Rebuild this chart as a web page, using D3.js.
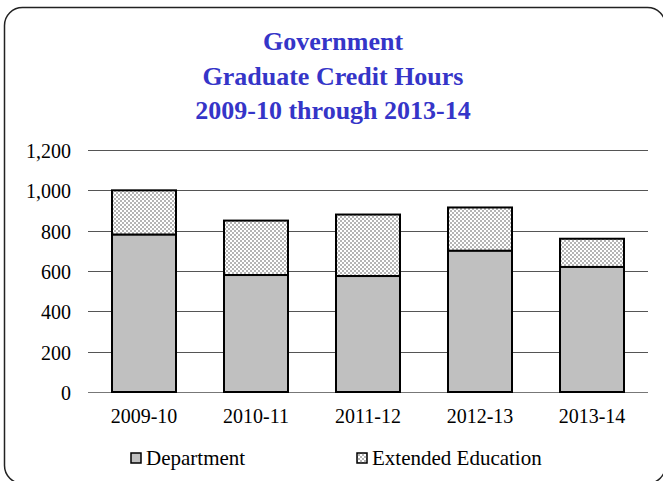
<!DOCTYPE html>
<html><head><meta charset="utf-8">
<script src="https://cdn.jsdelivr.net/npm/d3@7"></script>
<style>body{margin:0;background:#fff}svg{display:block}
text{font-family:"Liberation Serif","Times New Roman",Times,serif;}</style>
</head><body>
<script>
const categories = ["2009-10","2010-11","2011-12","2012-13","2013-14"];
const department = [780, 580, 575, 700, 620];
const extended = [220, 270, 305, 215, 140];
const seriesNames = ["Department","Extended Education"];
const yTicks = [0,200,400,600,800,1000,1200];
const titleLines = ["Government","Graduate Credit Hours","2009-10 through 2013-14"];

const W=663,H=481;
const svg=d3.select("body").append("svg").attr("width",W).attr("height",H);
const defs=svg.append("defs");
const pat=defs.append("pattern").attr("id","chk").attr("width",4).attr("height",4).attr("patternUnits","userSpaceOnUse");
pat.append("rect").attr("width",4).attr("height",4).attr("fill","#fff");
pat.append("rect").attr("width",2).attr("height",2).attr("fill","#b4b4b4");
pat.append("rect").attr("x",2).attr("y",2).attr("width",2).attr("height",2).attr("fill","#b4b4b4");

svg.append("rect").attr("x",4.5).attr("y",7.5).attr("width",661).attr("height",476).attr("rx",18)
  .attr("fill","none").attr("stroke","#222").attr("stroke-width",1.5);

const tg=svg.append("g").attr("font-weight","bold").attr("font-size",26).attr("fill","#3535c8").attr("text-anchor","middle");
const titleY=[50,85,119];
titleLines.forEach((t,i)=>tg.append("text").attr("x",333).attr("y",titleY[i]).style("font-weight","bold").text(t));

const x=d3.scaleBand().domain(categories).range([88,648]).paddingInner(0.4286).paddingOuter(0.2143);
const y=d3.scaleLinear().domain([0,1200]).range([392,150]);

const grid=svg.append("g");
yTicks.forEach(v=>{
  grid.append("line").attr("x1",88).attr("x2",648).attr("y1",Math.round(y(v))+0.5).attr("y2",Math.round(y(v))+0.5)
    .attr("stroke",v===0?"#777":"#555").attr("stroke-width",1);
});
const ya=svg.append("g").attr("transform","translate(88,0)")
  .call(d3.axisLeft(y).tickValues(yTicks).tickFormat(d3.format(",")).tickSize(0).tickPadding(17));
ya.select(".domain").remove();
ya.selectAll("text").attr("font-size",20).attr("fill","#000").attr("dy","0.38em");

const xa=svg.append("g").attr("transform","translate(0,392)")
  .call(d3.axisBottom(x).tickSize(0).tickPadding(0));
xa.select(".domain").remove();
xa.selectAll("text").attr("font-size",20).attr("fill","#000").attr("dy",null).attr("y",31);

const rows=categories.map((c,i)=>({cat:c,Department:department[i],"Extended Education":extended[i]}));
const stack=d3.stack().keys(seriesNames)(rows);
const fills={"Department":"#c0c0c0","Extended Education":"url(#chk)"};
stack.slice().reverse().forEach(s=>{
  svg.append("g").selectAll("rect").data(s).join("rect")
    .attr("x",d=>x(d.data.cat)).attr("width",x.bandwidth())
    .attr("y",d=>y(d[1])).attr("height",d=>y(d[0])-y(d[1]))
    .attr("fill",fills[s.key]).attr("stroke","#000").attr("stroke-width",2);
});

const lg=svg.append("g");
const lx=[131,357];
seriesNames.forEach((n,i)=>{
  lg.append("rect").attr("x",lx[i]).attr("y",453).attr("width",10).attr("height",10)
    .attr("fill",fills[n]).attr("stroke","#000").attr("stroke-width",1.5);
  lg.append("text").attr("x",lx[i]+15).attr("y",465).attr("font-size",21).text(n);
});
</script>
</body></html>
